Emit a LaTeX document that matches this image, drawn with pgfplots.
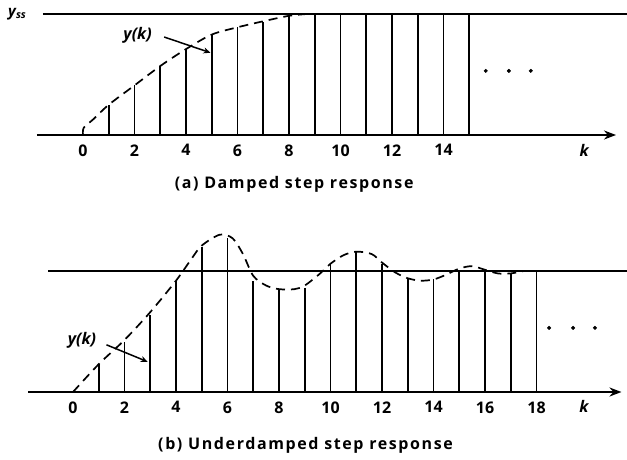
\documentclass[border=0pt]{standalone}
\usepackage{fontspec}
\setmainfont{Open Sans}
\usepackage{pgfplots}
\pgfplotsset{compat=1.18}
\usetikzlibrary{arrows.meta}
\pgfplotsset{
  stepax/.style={
    x=25.75pt, y=121pt,
    ymin=-0.05, ymax=1.4,
    axis x line=middle, axis y line=none,
    hide obscured x ticks=false,
    x axis line style={line width=2.2pt,-{Stealth[length=12pt,width=9pt]}},
    major tick length=0pt,
    xticklabel style={font=\fontsize{16}{16}\selectfont\bfseries, anchor=north, yshift=-6pt},
    /pgf/number format/assume math mode=true,
    clip=false, anchor=origin,
  },
  stem/.style={black, line width=1.7pt, ycomb, mark=none},
  curve/.style={black, line width=1.7pt, dash pattern=on 9pt off 6pt, smooth, mark=none},
  ssline/.style={black, line width=2pt, mark=none},
  dots/.style={black, only marks, mark=*, mark size=1.8pt},
}
\begin{document}
\begin{tikzpicture}
\path[use as bounding box] (0,0) rectangle (627pt,459pt);
% ---------- (a) damped ----------
\begin{axis}[stepax, at={(83pt,324pt)}, xmin=-1.79, xmax=20.7,
  xtick={0,2,4,6,8,10,12,14}]
\addplot[ssline] coordinates {(-1.56,1) (21.2,1)};
\addplot[stem] coordinates {(1,0.25)(2,0.41)(3,0.57)(4,0.71)(5,0.83)(6,0.89)(7,0.93)(8,0.99)
  (9,1)(10,1)(11,1)(12,1)(13,1)(14,1)(15,1)};
\addplot[curve] coordinates {(0,0)(0.03,0.06)(0.4,0.13)(1,0.25)(2,0.41)(3,0.57)(4,0.71)(5,0.83)(6,0.89)(7,0.94)(8,0.985)(8.7,1.0)};
\addplot[dots] coordinates {(15.64,0.53)(16.54,0.53)(17.39,0.53)};
\node[font=\fontsize{16}{16}\selectfont\bfseries\itshape] at (axis cs:2.12,0.82) {y(k)};
\draw[line width=1.5pt,-{Stealth[length=7pt,width=6pt]}] (axis cs:3.15,0.81) -- (axis cs:4.95,0.68);
\node[font=\fontsize{16}{16}\selectfont\bfseries\itshape] at (axis cs:19.46,-0.13) {k};
\node[font=\fontsize{15}{15}\selectfont\bfseries\itshape, anchor=center] at (axis cs:-2.55,1.0) {y\textsubscript{ss}};
\node[font=\fontsize{16}{16}\selectfont\bfseries\addfontfeatures{LetterSpace=10}] at (axis cs:8.2,-0.41) {(a) Damped step response};
\end{axis}
% ---------- (b) underdamped ----------
\begin{axis}[stepax, at={(73pt,67pt)}, xmin=-1.74, xmax=21.3,
  xtick={0,2,4,6,8,10,12,14,16,18}]
\addplot[ssline] coordinates {(-0.97,1) (21.5,1)};
\addplot[stem] coordinates {(1,0.23)(2,0.41)(3,0.64)(4,0.92)(5,1.20)(6,1.27)(7,0.92)(8,0.85)(9,0.86)
  (10,1.06)(11,1.16)(12,1.06)(13,0.94)(14,0.93)(15,1.0)(16,1.01)(17,0.98)(18,1.0)};
\addplot[curve] coordinates {(0,0)(1,0.23)(2,0.43)(3,0.66)(4,0.92)(4.6,1.1)(5,1.21)(5.7,1.30)(6.2,1.27)(6.6,1.14)(7,0.96)(7.5,0.88)(8,0.85)(8.6,0.85)(9,0.88)(9.6,0.98)(10,1.06)(10.5,1.13)(11,1.16)(11.6,1.14)(12,1.07)(12.5,0.99)(13,0.94)(13.5,0.92)(14,0.93)(14.5,0.97)(15,1.02)(15.5,1.04)(16,1.01)(16.5,0.98)(17,0.98)(17.5,1.0)};
\addplot[dots] coordinates {(18.49,0.53)(19.42,0.53)(20.27,0.53)};
\node[font=\fontsize{16}{16}\selectfont\bfseries\itshape] at (axis cs:0.35,0.43) {y(k)};
\draw[line width=1.5pt,-{Stealth[length=7pt,width=6pt]}] (axis cs:1.3,0.39) -- (axis cs:2.9,0.25);
\node[font=\fontsize{16}{16}\selectfont\bfseries\itshape] at (axis cs:19.84,-0.12) {k};
\node[font=\fontsize{16}{16}\selectfont\bfseries\addfontfeatures{LetterSpace=10}] at (axis cs:9.03,-0.44) {(b) Underdamped step response};
\end{axis}
\end{tikzpicture}
\end{document}
